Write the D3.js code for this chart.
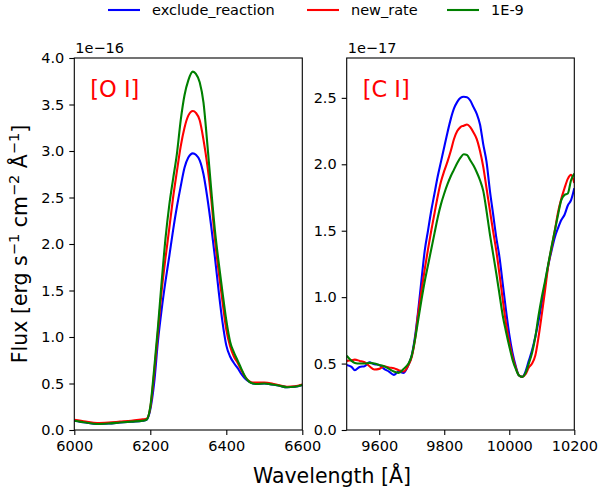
<!DOCTYPE html>
<html>
<head>
<meta charset="utf-8">
<script src="https://cdn.jsdelivr.net/npm/d3@7"></script>
<style>
  body { margin: 0; background: #fff; }
  svg { display: block; font-family: "DejaVu Sans", sans-serif; }
</style>
</head>
<body>
<div id="chart"></div>
<script>
// Series names and colours
const seriesNames = ["exclude_reaction", "new_rate", "1E-9"];
const seriesColors = ["#0000ff", "#ff0000", "#008000"];

// [O I] panel (flux in units of 1e-16)
const oiWave = [6000, 6030, 6060, 6090, 6120, 6150, 6180,
  6190, 6200, 6210, 6220, 6230, 6240, 6250, 6260, 6270, 6280, 6290, 6300,
  6312,
  6320, 6330, 6340, 6350, 6360, 6370, 6380, 6390, 6400, 6410, 6420, 6430, 6440, 6450, 6460, 6470, 6480,
  6500, 6520, 6540, 6560, 6580, 6600];
const oiExclude = [0.10, 0.08, 0.065, 0.07, 0.08, 0.09, 0.10,
  0.11, 0.22, 0.5, 0.95, 1.3, 1.6, 1.87, 2.15, 2.4, 2.62, 2.82, 2.93,
  2.975,
  2.96, 2.9, 2.75, 2.5, 2.2, 1.86, 1.49, 1.16, 0.91, 0.79, 0.72, 0.665, 0.6, 0.55, 0.52, 0.5, 0.495,
  0.5, 0.49, 0.475, 0.46, 0.465, 0.485];
const oiNewRate = [0.11, 0.09, 0.075, 0.08, 0.09, 0.10, 0.115,
  0.12, 0.24, 0.6, 1.05, 1.5, 1.85, 2.17, 2.5, 2.78, 3.05, 3.25, 3.38,
  3.43,
  3.41, 3.33, 3.12, 2.85, 2.5, 2.05, 1.7, 1.38, 1.08, 0.9, 0.79, 0.72, 0.64, 0.57, 0.525, 0.51, 0.51,
  0.51, 0.50, 0.48, 0.465, 0.47, 0.49];
const oi1e9 = [0.10, 0.08, 0.065, 0.07, 0.08, 0.09, 0.10,
  0.11, 0.25, 0.65, 1.1, 1.6, 2.06, 2.42, 2.7, 2.97, 3.33, 3.6, 3.76,
  3.853,
  3.83, 3.74, 3.52, 3.08, 2.6, 2.15, 1.8, 1.48, 1.18, 0.95, 0.835, 0.745, 0.655, 0.57, 0.52, 0.50, 0.495,
  0.50, 0.49, 0.475, 0.46, 0.465, 0.485];
const oiXTicks = [6000, 6200, 6400, 6600];
const oiYTicks = [0, 0.5, 1, 1.5, 2, 2.5, 3, 3.5, 4];

// [C I] panel (flux in units of 1e-17)
const ciWave = [9500, 9515, 9525, 9540, 9555, 9570, 9585, 9600, 9615, 9630, 9645, 9660, 9675, 9690, 9700,
  9710, 9720, 9730, 9740, 9750, 9760, 9770, 9780, 9790, 9800,
  9810, 9820, 9830, 9840, 9850, 9860, 9870, 9880, 9890, 9900,
  9910, 9920, 9930, 9940, 9950, 9960, 9970, 9980, 9990, 10000,
  10010, 10020, 10030, 10040, 10050, 10060, 10070, 10080, 10090, 10100,
  10110, 10120, 10130, 10140, 10150, 10160, 10170, 10180, 10190, 10200];
const ciExclude = [0.49, 0.475, 0.45, 0.475, 0.48, 0.51, 0.495, 0.49, 0.46, 0.44, 0.415, 0.44, 0.43, 0.49, 0.56,
  0.7, 0.9, 1.13, 1.35, 1.5, 1.65, 1.78, 1.91, 2.02, 2.13,
  2.24, 2.34, 2.42, 2.47, 2.5, 2.508, 2.505, 2.48, 2.43, 2.38,
  2.3, 2.15, 2.02, 1.81, 1.63, 1.45, 1.3, 1.1, 0.9, 0.72,
  0.58, 0.48, 0.41, 0.40, 0.44, 0.52, 0.6, 0.7, 0.82, 0.96,
  1.1, 1.24, 1.35, 1.45, 1.52, 1.58, 1.62, 1.69, 1.73, 1.82];
const ciNewRate = [0.52, 0.525, 0.53, 0.52, 0.51, 0.48, 0.455, 0.46, 0.48, 0.47, 0.465, 0.45, 0.44, 0.49, 0.55,
  0.68, 0.88, 1.05, 1.21, 1.36, 1.5, 1.63, 1.76, 1.87, 1.95,
  2.02, 2.1, 2.19, 2.25, 2.28, 2.29, 2.30, 2.28, 2.24, 2.19,
  2.1, 1.98, 1.82, 1.66, 1.5, 1.35, 1.17, 0.98, 0.8, 0.66,
  0.55, 0.47, 0.41, 0.40, 0.42, 0.47, 0.5, 0.56, 0.7, 0.87,
  1.05, 1.24, 1.37, 1.5, 1.64, 1.74, 1.82, 1.89, 1.92, 1.86];
const ci1e9 = [0.56, 0.52, 0.505, 0.5, 0.5, 0.505, 0.5, 0.49, 0.48, 0.46, 0.44, 0.43, 0.46, 0.5, 0.56,
  0.68, 0.83, 0.98, 1.12, 1.24, 1.36, 1.48, 1.6, 1.7, 1.78,
  1.85, 1.91, 1.96, 2.01, 2.05, 2.075, 2.07, 2.03, 1.99, 1.94,
  1.88, 1.8, 1.65, 1.48, 1.33, 1.18, 1.02, 0.86, 0.74, 0.63,
  0.53, 0.46, 0.41, 0.40, 0.43, 0.5, 0.58, 0.7, 0.86, 1.0,
  1.12, 1.25, 1.38, 1.5, 1.62, 1.73, 1.77, 1.78, 1.88, 1.93];
const ciXTicks = [9600, 9800, 10000, 10200];
const ciYTicks = [0, 0.5, 1, 1.5, 2, 2.5];

// Dimensions
const fullWidth = 598;
const fullHeight = 492;
const plotTop = 58, plotBottom = 430;
const tickFont = 14.5;

const svg = d3.select("#chart").append("svg")
  .attr("width", fullWidth)
  .attr("height", fullHeight);

function drawPanel(p) {
  const x = d3.scaleLinear().domain(p.xDomain).range([p.left, p.right]);
  const y = d3.scaleLinear().domain(p.yDomain).range([plotBottom, plotTop]);

  const g = svg.append("g");

  g.append("clipPath")
    .attr("id", p.id)
    .append("rect")
    .attr("x", p.left).attr("y", plotTop)
    .attr("width", p.right - p.left).attr("height", plotBottom - plotTop);

  // Lines
  const line = d3.line()
    .x((d, i) => x(p.wave[i]))
    .y(d => y(d))
    .curve(d3.curveMonotoneX);

  g.append("g")
    .attr("clip-path", `url(#${p.id})`)
    .selectAll("path")
    .data(p.series)
    .enter()
    .append("path")
    .attr("d", d => line(d))
    .attr("fill", "none")
    .attr("stroke", (d, i) => seriesColors[i])
    .attr("stroke-width", 2.1)
    .attr("stroke-linejoin", "round");

  // Axes
  const xAxis = g.append("g")
    .attr("transform", `translate(0,${plotBottom})`)
    .call(d3.axisBottom(x).tickValues(p.xTicks).tickSize(5).tickPadding(6).tickFormat(d3.format("d")));
  const yAxis = g.append("g")
    .attr("transform", `translate(${p.left},0)`)
    .call(d3.axisLeft(y).tickValues(p.yTicks).tickSize(5).tickPadding(5).tickFormat(d3.format(".1f")));

  [xAxis, yAxis].forEach(a => {
    a.select(".domain").remove();
    a.attr("font-size", tickFont).attr("font-family", "DejaVu Sans, sans-serif");
    a.selectAll("line").attr("stroke", "#000").attr("stroke-width", 1.1);
    a.selectAll("text").attr("fill", "#000");
  });

  // Frame
  g.append("rect")
    .attr("x", p.left).attr("y", plotTop)
    .attr("width", p.right - p.left).attr("height", plotBottom - plotTop)
    .attr("fill", "none")
    .attr("stroke", "#000")
    .attr("stroke-width", 1.1);

  // Offset text
  g.append("text")
    .attr("x", p.left + 1)
    .attr("y", 53)
    .attr("font-size", tickFont)
    .text(p.offset);

  // Line label
  g.append("text")
    .attr("x", p.left + 16)
    .attr("y", 97)
    .attr("font-size", 22.5)
    .attr("fill", "#ff0000")
    .text(p.label);
}

drawPanel({
  id: "clip-oi", left: 74.3, right: 302.3,
  xDomain: [6000, 6600], yDomain: [0, 4],
  wave: oiWave, series: [oiExclude, oiNewRate, oi1e9],
  xTicks: oiXTicks, yTicks: oiYTicks,
  offset: "1e\u221216", label: "[O I]"
});

drawPanel({
  id: "clip-ci", left: 346.7, right: 574.3,
  xDomain: [9500, 10200], yDomain: [0, 2.8],
  wave: ciWave, series: [ciExclude, ciNewRate, ci1e9],
  xTicks: ciXTicks, yTicks: ciYTicks,
  offset: "1e\u221217", label: "[C I]"
});

// Legend
const legendX = [108, 307, 447];
const legend = svg.append("g");
seriesNames.forEach((name, i) => {
  legend.append("line")
    .attr("x1", legendX[i]).attr("x2", legendX[i] + 32)
    .attr("y1", 10).attr("y2", 10)
    .attr("stroke", seriesColors[i])
    .attr("stroke-width", 2.1);
  legend.append("text")
    .attr("x", legendX[i] + 44)
    .attr("y", 15)
    .attr("font-size", tickFont)
    .text(name);
});

// X-axis label
svg.append("text")
  .attr("x", 332)
  .attr("y", 483)
  .attr("text-anchor", "middle")
  .attr("font-size", 20.5)
  .text("Wavelength [Å]");

// Y-axis label
const yLabel = svg.append("text")
  .attr("transform", "translate(27,244) rotate(-90)")
  .attr("text-anchor", "middle")
  .attr("font-size", 20.5);
yLabel.append("tspan").text("Flux [erg s");
yLabel.append("tspan").attr("baseline-shift", "super").attr("font-size", 14.5).text("\u22121");
yLabel.append("tspan").text(" cm");
yLabel.append("tspan").attr("baseline-shift", "super").attr("font-size", 14.5).text("\u22122");
yLabel.append("tspan").text(" Å");
yLabel.append("tspan").attr("baseline-shift", "super").attr("font-size", 14.5).text("\u22121");
yLabel.append("tspan").text("]");
</script>
</body>
</html>
